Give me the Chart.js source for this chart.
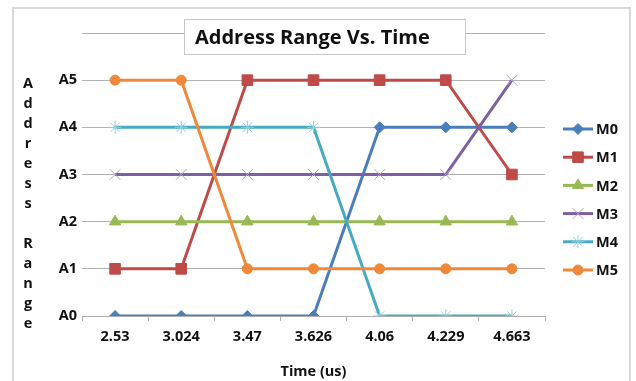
<!DOCTYPE html>
<html>
<head>
<meta charset="utf-8">
<title>Address Range Vs. Time</title>
<script src="https://cdn.jsdelivr.net/npm/chart.js@4/dist/chart.umd.min.js"></script>
<style>
  html, body { margin: 0; padding: 0; background: #fff; }
  #wrap { width: 636px; height: 381px; }
</style>
</head>
<body>
<div id="wrap"><canvas id="c" width="636" height="381"></canvas></div>
<script>
// Sample times (category axis)
const times = ['2.53', '3.024', '3.47', '3.626', '4.06', '4.229', '4.663'];
// Address range index of each master at every sample time
const m0 = [0, 0, 0, 0, 4, 4, 4];
const m1 = [1, 1, 5, 5, 5, 5, 3];
const m2 = [2, 2, 2, 2, 2, 2, 2];
const m3 = [3, 3, 3, 3, 3, 3, 5];
const m4 = [4, 4, 4, 4, 0, 0, 0];
const m5 = [5, 5, 1, 1, 1, 1, 1];
const seriesNames = ['M0', 'M1', 'M2', 'M3', 'M4', 'M5'];
const yTickLabels = ['A0', 'A1', 'A2', 'A3', 'A4', 'A5'];
const chartTitle = 'Address Range Vs. Time';
const xTitle = 'Time (us)';
const yTitle = 'Address Range';

const FONT = '"Open Sans", "DejaVu Sans", sans-serif';
const TEXT_SIZE = 14.5;

const styles = [
  { line: '#4A7EBB', fill: '#4A7EBB', border: '#4A7EBB', point: 'rectRot', r: 5.5, bw: 1 },
  { line: '#BE4B48', fill: '#BE4B48', border: '#BE4B48', point: 'rect', r: 7.5, bw: 1 },
  { line: '#98B954', fill: '#98B954', border: '#98B954', point: 'triangle', r: 6.5, bw: 1 },
  { line: '#7D60A0', fill: '#B3A2C7', border: '#B3A2C7', point: 'crossRot', r: 7.5, bw: 1 },
  { line: '#46AAC5', fill: '#93CDDD', border: '#93CDDD', point: 'star', r: 6.5, bw: 1 },
  { line: '#F0883A', fill: '#F0883A', border: '#F0883A', point: 'circle', r: 5, bw: 1 }
];

const seriesValues = [m0, m1, m2, m3, m4, m5];

const datasets = seriesValues.map((vals, i) => ({
  label: seriesNames[i],
  data: vals,
  borderColor: styles[i].line,
  borderWidth: 3,
  backgroundColor: styles[i].fill,
  pointStyle: styles[i].point,
  pointRadius: styles[i].r,
  pointHoverRadius: styles[i].r,
  pointBackgroundColor: styles[i].fill,
  pointBorderColor: styles[i].border,
  pointBorderWidth: styles[i].bw,
  tension: 0,
  fill: false,
  // later series are painted over earlier ones
  order: seriesNames.length - i
}));

// Frame, boxed title, stacked y-axis caption and the line+marker legend
const decorations = {
  id: 'decorations',
  beforeDraw(chart) {
    const ctx = chart.ctx;
    ctx.save();
    ctx.fillStyle = '#fff';
    ctx.fillRect(0, 0, chart.width, chart.height);
    ctx.restore();
  },
  afterDraw(chart) {
    const ctx = chart.ctx;
    ctx.save();

    // outer frame
    ctx.strokeStyle = '#d9d9d9';
    ctx.lineWidth = 2;
    ctx.strokeRect(13, 8, 617, 390);

    // title box
    ctx.fillStyle = '#fff';
    ctx.fillRect(184, 19, 281, 36);
    ctx.strokeStyle = '#c8c8c8';
    ctx.lineWidth = 1;
    ctx.strokeRect(184.5, 19.5, 281, 35);
    ctx.fillStyle = '#111';
    ctx.font = 'bold 20px ' + FONT;
    ctx.textAlign = 'left';
    ctx.textBaseline = 'middle';
    ctx.fillText(chartTitle, 195, 38);

    // y-axis caption, one letter per row
    ctx.font = 'bold ' + TEXT_SIZE + 'px ' + FONT;
    ctx.textAlign = 'center';
    const letters = yTitle.split('');
    letters.forEach((ch, k) => {
      if (ch !== ' ') ctx.fillText(ch, 28, 84 + k * 20);
    });

    // legend
    const lx = 563, ly = 129, step = 28.2;
    chart.data.datasets.forEach((ds, i) => {
      const y = ly + i * step;
      ctx.strokeStyle = ds.borderColor;
      ctx.lineWidth = 3;
      ctx.beginPath();
      ctx.moveTo(lx, y);
      ctx.lineTo(lx + 30, y);
      ctx.stroke();
      ctx.fillStyle = ds.pointBackgroundColor;
      ctx.strokeStyle = ds.pointBorderColor;
      ctx.lineWidth = ds.pointBorderWidth;
      Chart.helpers.drawPoint(ctx, {
        pointStyle: ds.pointStyle,
        radius: ds.pointRadius,
        borderWidth: ds.pointBorderWidth,
        rotation: 0
      }, lx + 15, y);
      ctx.fillStyle = '#111';
      ctx.font = 'bold ' + TEXT_SIZE + 'px ' + FONT;
      ctx.textAlign = 'left';
      ctx.textBaseline = 'middle';
      ctx.fillText(ds.label, lx + 33, y + 1);
    });
    ctx.restore();
  }
};

new Chart(document.getElementById('c'), {
  type: 'line',
  data: { labels: times, datasets },
  options: {
    responsive: false,
    animation: false,
    devicePixelRatio: 1,
    layout: { padding: { left: 40, right: 91, top: 33, bottom: 0 } },
    plugins: {
      legend: { display: false },
      title: { display: false },
      tooltip: { enabled: false }
    },
    scales: {
      x: {
        type: 'category',
        offset: true,
        grid: {
          offset: true,
          drawOnChartArea: false,
          drawTicks: true,
          tickLength: 5,
          color: '#b0b0b0'
        },
        border: { display: true, color: '#b0b0b0', width: 1 },
        ticks: {
          color: '#111',
          font: { family: FONT, size: TEXT_SIZE, weight: 'bold' },
          padding: 7,
          maxRotation: 0
        },
        title: {
          display: true,
          text: xTitle,
          color: '#111',
          font: { family: FONT, size: TEXT_SIZE, weight: 'bold' },
          padding: { top: 0, bottom: 0 }
        },
        afterFit(scale) { scale.height = 65; }
      },
      y: {
        min: 0,
        max: 6,
        grid: {
          color: '#b3b3b3',
          lineWidth: 1,
          drawTicks: false
        },
        border: { display: false },
        ticks: {
          stepSize: 1,
          color: '#111',
          padding: 5,
          font: { family: FONT, size: TEXT_SIZE, weight: 'bold' },
          callback: (v) => (yTickLabels[v] !== undefined ? yTickLabels[v] : '')
        },
        afterFit(scale) { scale.width = 42; }
      }
    }
  },
  plugins: [decorations]
});
</script>
</body>
</html>
